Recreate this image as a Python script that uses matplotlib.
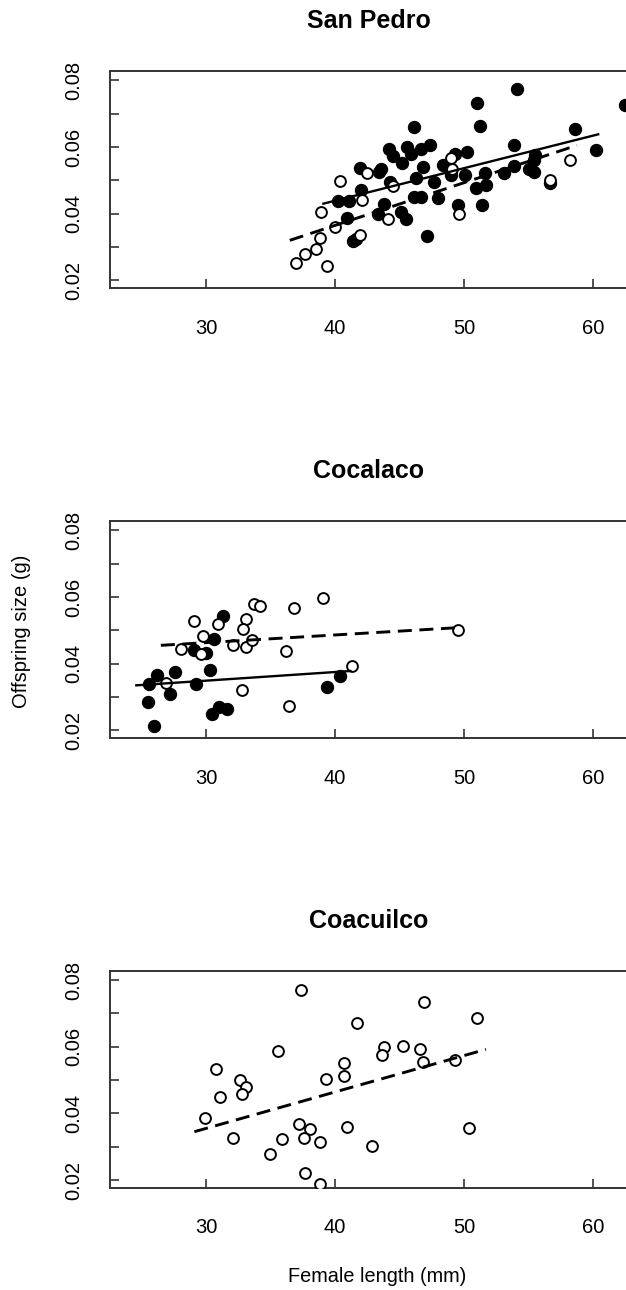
import matplotlib.pyplot as plt
import numpy as np

plt.rcParams['font.family'] = ['Liberation Sans', 'DejaVu Sans']

# ---- San Pedro ----
sp_filled_x = [54.1, 51.0, 62.5, 51.2, 46.1, 58.6, 53.9, 47.4, 45.6, 44.2, 46.7, 44.5, 45.9, 50.2,
               49.3, 60.2, 45.2, 48.4, 55.5, 55.4, 46.8, 41.9, 43.6, 43.4, 51.6, 53.1, 53.9, 55.0,
               55.4, 50.1, 49.0, 46.3, 47.7, 44.3, 56.7, 51.7, 50.9, 42.0, 40.2, 41.1, 46.1, 46.7,
               48.0, 43.8, 49.5, 51.4, 43.3, 45.1, 45.5, 40.9, 41.4, 41.6, 47.1]
sp_filled_y = [0.0775, 0.0732, 0.0727, 0.0664, 0.0661, 0.0654, 0.0606, 0.0606, 0.0600, 0.0595,
               0.0595, 0.0572, 0.0578, 0.0584, 0.0580, 0.0590, 0.0552, 0.0545, 0.0575, 0.0560,
               0.0540, 0.0538, 0.0535, 0.0525, 0.0523, 0.0523, 0.0542, 0.0535, 0.0525, 0.0517,
               0.0515, 0.0507, 0.0495, 0.0495, 0.0492, 0.0485, 0.0477, 0.0472, 0.0437, 0.0438,
               0.0450, 0.0450, 0.0448, 0.0430, 0.0427, 0.0427, 0.0400, 0.0405, 0.0385, 0.0388,
               0.0318, 0.0325, 0.0332]
sp_open_x = [40.4, 42.5, 42.1, 38.9, 40.0, 44.1, 44.5, 49.0, 49.1, 49.6, 56.7, 58.2, 41.9, 38.8,
             38.5, 37.7, 37.0, 39.4]
sp_open_y = [0.0498, 0.0522, 0.0440, 0.0404, 0.0360, 0.0385, 0.0482, 0.0567, 0.0535, 0.0398,
             0.0500, 0.0560, 0.0335, 0.0328, 0.0293, 0.0280, 0.0253, 0.0242]
sp_solid_x = [39.1, 60.4]
sp_solid_y = [0.0430, 0.0638]
sp_dash_x = [36.5, 58.75]
sp_dash_y = [0.0320, 0.0605]

# ---- Cocalaco ----
co_filled_x = [31.35, 30.6, 29.1, 30.0, 30.3, 27.6, 26.2, 25.6, 29.2, 27.2, 25.5, 26.0, 30.5,
               31.0, 31.6, 39.4, 40.4]
co_filled_y = [0.0542, 0.0475, 0.0442, 0.0433, 0.0380, 0.0375, 0.0365, 0.0340, 0.0340, 0.0310,
               0.0285, 0.0213, 0.0248, 0.0270, 0.0263, 0.0330, 0.0362]
co_open_x = [29.1, 30.9, 33.1, 32.9, 33.7, 34.2, 36.8, 39.1, 29.8, 28.1, 29.6, 32.1, 33.1, 33.6,
             36.2, 49.5, 41.35, 26.9, 32.8, 36.4]
co_open_y = [0.0527, 0.0520, 0.0535, 0.0503, 0.0578, 0.0573, 0.0567, 0.0597, 0.0482, 0.0445,
             0.0430, 0.0455, 0.0450, 0.0472, 0.0438, 0.0502, 0.0393, 0.0343, 0.0320, 0.0273]
co_solid_x = [24.6, 41.2]
co_solid_y = [0.0335, 0.0378]
co_dash_x = [26.5, 49.5]
co_dash_y = [0.0455, 0.0508]

# ---- Coacuilco ----
cu_open_x = [37.4, 46.9, 51.0, 41.7, 35.6, 43.8, 45.3, 46.6, 43.65, 40.7, 46.8, 49.3, 30.8, 40.7,
             39.3, 32.6, 33.1, 32.8, 31.1, 29.9, 37.2, 38.1, 40.9, 50.4, 32.1, 35.9, 37.6, 38.8,
             42.85, 35.0, 37.7, 38.8]
cu_open_y = [0.0769, 0.0734, 0.0687, 0.0672, 0.0587, 0.0598, 0.0603, 0.0593, 0.0574, 0.0550,
             0.0554, 0.0560, 0.0533, 0.0512, 0.0504, 0.0500, 0.0480, 0.0458, 0.0449, 0.0385,
             0.0368, 0.0354, 0.0358, 0.0356, 0.0325, 0.0324, 0.0327, 0.0313, 0.0303, 0.0277,
             0.0220, 0.0187]
cu_dash_x = [29.1, 51.7]
cu_dash_y = [0.0345, 0.0592]

x_ticks = [30, 40, 50, 60]
y_ticks = [0.02, 0.03, 0.04, 0.05, 0.06, 0.07, 0.08]
y_labels = ["0.02", "", "0.04", "", "0.06", "", "0.08"]

W, H = 626, 1290
fig = plt.figure(figsize=(W / 100, H / 100), dpi=100)

left = 110 / W
width = 518 / W
height = 217 / H
tops = [71, 521, 970.7]
titles = ["San Pedro", "Cocalaco", "Coacuilco"]


def make_axes(top, title):
    ax = fig.add_axes([left, 1 - (top + 217) / H, width, height])
    ax.set_xlim(22.56, 62.71)
    ax.set_ylim(0.0177, 0.0828)
    ax.set_xticks(x_ticks)
    ax.set_xticklabels([str(t) for t in x_ticks])
    ax.set_yticks(y_ticks)
    ax.set_yticklabels(y_labels)
    ax.tick_params(direction='in', length=6.5, width=1.1, color='#222222', labelsize=14.5)
    ax.tick_params(axis='x', pad=22)
    ax.tick_params(axis='y', pad=19, labelrotation=90)
    for lbl in ax.get_yticklabels():
        lbl.set_va('center')
    for s in ax.spines.values():
        s.set_linewidth(1.4)
        s.set_color('#333333')
    ax.set_title(title, fontsize=18, fontweight='bold', pad=31)
    return ax


def filled(ax, x, y):
    ax.plot(x, y, 'o', color='black', ms=8.6, mec='black', ls='none', zorder=3)


def hollow(ax, x, y):
    ax.plot(x, y, 'o', mfc='white', mec='black', mew=1.4, ms=7.8, ls='none', zorder=4)


def solid(ax, x, y):
    ax.plot(x, y, '-', color='black', lw=1.7, zorder=5)


def dashed(ax, x, y):
    ax.plot(x, y, '--', color='black', lw=2.1, dashes=(4.8, 2.6), zorder=5)


ax1 = make_axes(tops[0], titles[0])
filled(ax1, sp_filled_x, sp_filled_y)
hollow(ax1, sp_open_x, sp_open_y)
solid(ax1, sp_solid_x, sp_solid_y)
dashed(ax1, sp_dash_x, sp_dash_y)

ax2 = make_axes(tops[1], titles[1])
filled(ax2, co_filled_x, co_filled_y)
hollow(ax2, co_open_x, co_open_y)
solid(ax2, co_solid_x, co_solid_y)
dashed(ax2, co_dash_x, co_dash_y)

ax3 = make_axes(tops[2], titles[2])
hollow(ax3, cu_open_x, cu_open_y)
dashed(ax3, cu_dash_x, cu_dash_y)

fig.text(22 / W, 1 - 631 / H, "Offspring size (g)", rotation=90, fontsize=14.5,
         ha='center', va='center')
fig.text(377 / W, 1 - 1277 / H, "Female length (mm)", fontsize=14.3,
         ha='center', va='center')

fig.savefig("out.png", dpi=100)
